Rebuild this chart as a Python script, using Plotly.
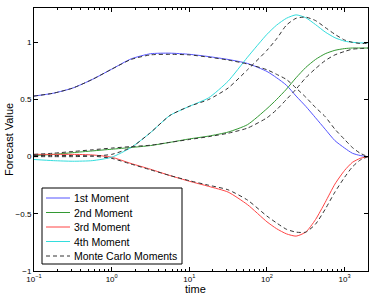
import plotly.graph_objects as go

time = [0.1, 0.178, 0.316, 0.562, 1.0, 1.78, 3.16, 5.62, 10, 17.8, 31.6, 56.2, 100,
        133, 178, 237, 316, 422, 562, 750, 1000, 1259, 1585, 2000]

m1 = [0.53, 0.555, 0.60, 0.675, 0.765, 0.855, 0.90, 0.905, 0.895, 0.875, 0.85, 0.815, 0.745,
      0.69, 0.625, 0.53, 0.44, 0.34, 0.24, 0.14, 0.075, 0.03, 0.01, 0.0]
m2 = [0.01, 0.02, 0.035, 0.05, 0.065, 0.08, 0.097, 0.125, 0.155, 0.18, 0.215, 0.28, 0.42,
      0.50, 0.59, 0.69, 0.78, 0.85, 0.90, 0.93, 0.945, 0.95, 0.95, 0.95]
m3 = [0.02, 0.02, 0.02, 0.015, -0.005, -0.06, -0.11, -0.165, -0.215, -0.26, -0.31, -0.42, -0.57,
      -0.63, -0.675, -0.695, -0.66, -0.55, -0.40, -0.24, -0.12, -0.05, -0.015, 0.0]
m4 = [-0.025, -0.035, -0.04, -0.035, -0.005, 0.08, 0.21, 0.36, 0.44, 0.515, 0.66, 0.87, 1.07,
      1.15, 1.21, 1.24, 1.215, 1.155, 1.09, 1.04, 1.01, 1.0, 0.995, 0.995]

mc1 = [0.53, 0.555, 0.60, 0.675, 0.765, 0.85, 0.89, 0.895, 0.89, 0.87, 0.845, 0.81, 0.76,
       0.72, 0.675, 0.60, 0.52, 0.43, 0.35, 0.24, 0.15, 0.08, 0.03, 0.0]
mc2 = [0.02, 0.03, 0.045, 0.06, 0.075, 0.088, 0.10, 0.125, 0.15, 0.175, 0.205, 0.25, 0.34,
       0.41, 0.50, 0.59, 0.69, 0.77, 0.84, 0.89, 0.92, 0.94, 0.945, 0.95]
mc3 = [0.01, 0.01, 0.01, 0.005, -0.015, -0.065, -0.115, -0.165, -0.21, -0.25, -0.29, -0.38, -0.52,
       -0.58, -0.635, -0.66, -0.66, -0.59, -0.46, -0.31, -0.18, -0.09, -0.03, 0.0]
mc4 = [0.0, 0.0, 0.0, 0.005, 0.02, 0.08, 0.21, 0.36, 0.44, 0.50, 0.60, 0.76, 0.93,
       1.03, 1.15, 1.21, 1.22, 1.19, 1.13, 1.07, 1.02, 1.0, 0.99, 0.99]

names = ["1st Moment", "2nd Moment", "3rd Moment", "4th Moment"]
mc_name = "Monte Carlo Moments"
colors = ["#5555ff", "#339933", "#ff4444", "#33dddd"]
mc_color = "#333333"
mc_dash = "4px,3px"

x_ticks = [0.1, 1, 10, 100, 1000]
x_ticktext = ["10<sup>−1</sup>", "10<sup>0</sup>", "10<sup>1</sup>", "10<sup>2</sup>", "10<sup>3</sup>"]
y_ticks = [-1, -0.5, 0, 0.5, 1]
y_ticktext = ["−1", "−0.5", "0", "0.5", "1"]

W, H = 374, 298
L, R, T, B = 34, 6, 8, 27
PW, PH = W - L - R, H - T - B


def px2x(p):
    return (p - L) / PW


def px2y(p):
    return (H - B - p) / PH


fig = go.Figure()
for name, col, ys in zip(names, colors, [m1, m2, m3, m4]):
    fig.add_trace(go.Scatter(x=time, y=ys, mode="lines", name=name, showlegend=False,
                             line=dict(color=col, width=1, shape="spline", smoothing=0.6)))
for i, ys in enumerate([mc1, mc2, mc3, mc4]):
    fig.add_trace(go.Scatter(x=time, y=ys, mode="lines", name=mc_name, showlegend=False,
                             line=dict(color=mc_color, width=1, dash=mc_dash,
                                       shape="spline", smoothing=0.6)))

minor_vals = []
for dec in [0.1, 1, 10, 100, 1000]:
    for k in range(2, 10):
        v = dec * k
        if v <= 2000:
            minor_vals.append(v)

# legend box drawn manually (compact MATLAB-style)
shapes = [dict(type="rect", xref="paper", yref="paper",
               x0=px2x(42), x1=px2x(182), y0=px2y(264), y1=px2y(188),
               line=dict(color="black", width=1), fillcolor="white", layer="above")]
annotations = []
leg_items = list(zip(names, colors, ["solid"] * 4)) + [(mc_name, mc_color, mc_dash)]
for i, (nm, col, dsh) in enumerate(leg_items):
    yy = 198 + 14.5 * i
    shapes.append(dict(type="line", xref="paper", yref="paper",
                       x0=px2x(46), x1=px2x(70), y0=px2y(yy), y1=px2y(yy),
                       line=dict(color=col, width=1, dash=dsh), layer="above"))
    annotations.append(dict(text=nm, xref="paper", yref="paper", x=px2x(72), y=px2y(yy),
                            xanchor="left", yanchor="middle", showarrow=False,
                            font=dict(size=10.5, color="black")))

annotations.append(dict(text="time", xref="paper", yref="paper", x=px2x(195), y=px2y(289),
                        xanchor="center", yanchor="middle", showarrow=False,
                        font=dict(size=11, color="black")))
annotations.append(dict(text="Forecast Value", xref="paper", yref="paper", x=px2x(9), y=px2y(140),
                        xanchor="center", yanchor="middle", showarrow=False, textangle=-90,
                        font=dict(size=11, color="black")))

fig.update_layout(
    width=W, height=H,
    margin=dict(l=L, r=R, t=T, b=B),
    plot_bgcolor="white", paper_bgcolor="white",
    font=dict(family="Liberation Sans, Arial, sans-serif", color="black"),
    showlegend=False,
    shapes=shapes, annotations=annotations,
)
fig.update_xaxes(
    type="log", range=[-1, 3.30103], automargin=False,
    tickvals=x_ticks, ticktext=x_ticktext,
    ticks="inside", ticklen=4, tickcolor="black", tickfont=dict(size=8),
    minor=dict(tickvals=minor_vals, ticks="inside", ticklen=2, tickcolor="black", showgrid=False),
    showline=True, linecolor="black", linewidth=1, mirror="ticks",
    showgrid=False, zeroline=False,
)
fig.update_yaxes(
    range=[-1, 1.3], automargin=False,
    tickvals=y_ticks, ticktext=y_ticktext,
    ticks="inside", ticklen=4, tickcolor="black", tickfont=dict(size=8),
    showline=True, linecolor="black", linewidth=1, mirror="ticks",
    showgrid=False, zeroline=False,
)
fig.write_html("out.html", config={"displayModeBar": False},
               post_script="document.body.style.margin='0';document.body.style.overflow='hidden';")
